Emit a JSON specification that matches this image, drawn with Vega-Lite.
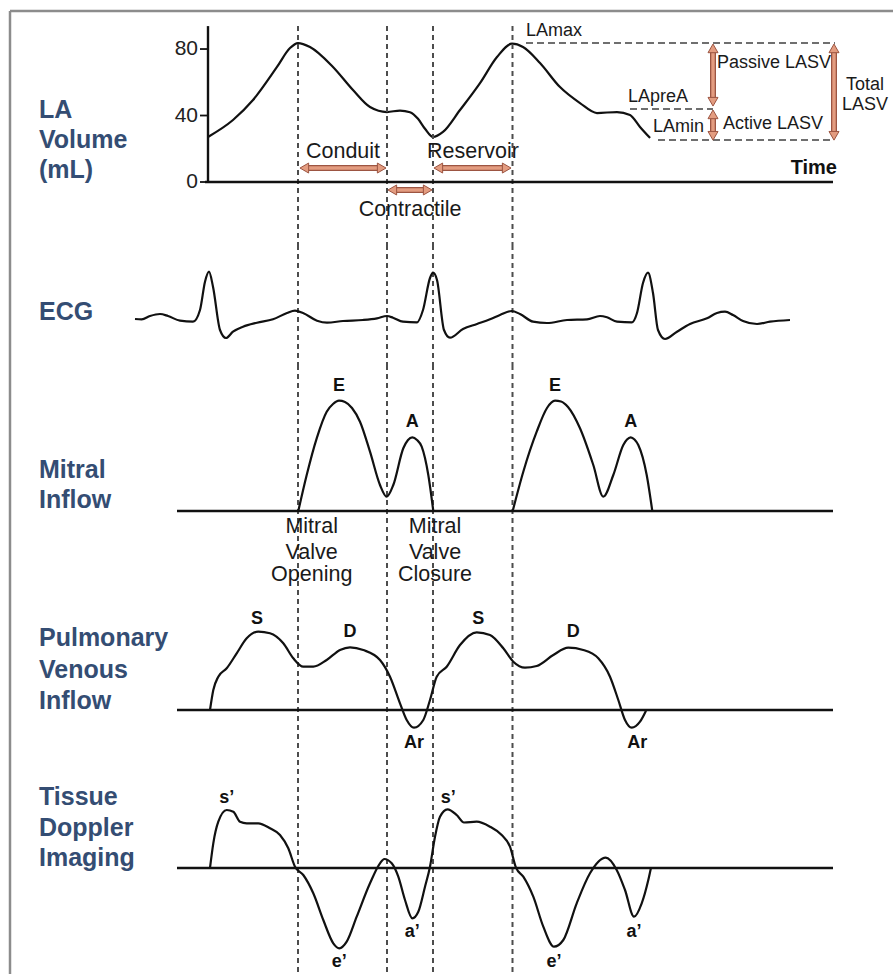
{
  "$schema": "https://vega.github.io/schema/vega-lite/v6.json",
  "background": "white",
  "padding": 0,
  "spacing": 0,
  "bounds": "flush",
  "config": {"view": {"stroke": null}, "font": "Liberation Sans", "text": {"font": "Liberation Sans"}},
  "datasets": {
    "events": [
      {"event": "Mitral valve opening", "t": 298},
      {"event": "Onset of atrial contraction", "t": 387},
      {"event": "Mitral valve closure", "t": 433},
      {"event": "Mitral valve opening", "t": 512.5}
    ],
    "laTicks": [{"v": 0}, {"v": 40}, {"v": 80}],
    "la": [
      {"t": 208, "v": 27.1}, {"t": 233, "v": 37.3}, {"t": 253, "v": 49.3}, {"t": 277, "v": 69.2},
      {"t": 290, "v": 80.6}, {"t": 298, "v": 83.6}, {"t": 310, "v": 81.2}, {"t": 333, "v": 69.2},
      {"t": 353, "v": 55.3}, {"t": 370, "v": 45.1}, {"t": 387, "v": 42.1}, {"t": 400, "v": 43.0},
      {"t": 410, "v": 42.0}, {"t": 418, "v": 38.0}, {"t": 425, "v": 32.0}, {"t": 433, "v": 27.1}, {"t": 443, "v": 30.1},
      {"t": 460, "v": 43.3}, {"t": 480, "v": 59.5}, {"t": 497, "v": 75.2}, {"t": 512, "v": 83.2},
      {"t": 523, "v": 81.2}, {"t": 540, "v": 71.6}, {"t": 560, "v": 57.1}, {"t": 580, "v": 47.5},
      {"t": 597, "v": 41.5}, {"t": 617, "v": 42.1}, {"t": 630, "v": 40.3}, {"t": 640, "v": 33.1},
      {"t": 650, "v": 26.5}
    ],
    "laRefs": [
      {"ref": "LAmax", "t": 526, "t2": 835, "v": 83.6},
      {"ref": "LApreA", "t": 630, "t2": 713, "v": 43.9},
      {"ref": "LAmin", "t": 658, "t2": 833, "v": 25.3}
    ],
    "arrows": [
      {"arrow": "Conduit", "orient": "h", "t": 304.3, "t2": 381.7, "v": 8.4, "v2": 8.4},
      {"arrow": "Reservoir", "orient": "h", "t": 438.3, "t2": 506.7, "v": 8.4, "v2": 8.4},
      {"arrow": "Contractile", "orient": "h", "t": 392.3, "t2": 427.7, "v": -4.8, "v2": -4.8},
      {"arrow": "Passive LASV", "orient": "v", "t": 713, "t2": 713, "v": 80.4, "v2": 48.3},
      {"arrow": "Active LASV", "orient": "v", "t": 713, "t2": 713, "v": 40.7, "v2": 27.8},
      {"arrow": "Total LASV", "orient": "v", "t": 834, "t2": 834, "v": 80.4, "v2": 27.8}
    ],
    "laText": [
      {"role": "phase", "t": 343, "v": 18.0, "text": "Conduit"},
      {"role": "phase", "t": 473, "v": 18.0, "text": "Reservoir"},
      {"role": "phase", "t": 410, "v": -16.8, "text": "Contractile"},
      {"role": "level", "t": 526, "v": 90.8, "text": "LAmax"},
      {"role": "level", "t": 628, "v": 51.1, "text": "LApreA"},
      {"role": "level", "t": 717, "v": 71.3, "text": "Passive LASV"},
      {"role": "level", "t": 723, "v": 34.9, "text": "Active LASV"},
      {"role": "levelR", "t": 704, "v": 33.1, "text": "LAmin"},
      {"role": "total", "t": 865, "v": 58.3, "text": "Total"},
      {"role": "total", "t": 865, "v": 46.3, "text": "LASV"},
      {"role": "time", "t": 837, "v": 8.4, "text": "Time"}
    ],
    "panelLabels": [
      {"panel": "la", "t": 39, "v": 43.3, "text": "LA"},
      {"panel": "la", "t": 39, "v": 25.3, "text": "Volume"},
      {"panel": "la", "t": 39, "v": 7.2, "text": "(mL)"},
      {"panel": "ecg", "t": 39, "v": 8, "text": "ECG"},
      {"panel": "mitral", "t": 39, "v": 41, "text": "Mitral"},
      {"panel": "mitral", "t": 39, "v": 11, "text": "Inflow"},
      {"panel": "pv", "t": 39, "v": 72, "text": "Pulmonary"},
      {"panel": "pv", "t": 39, "v": 40, "text": "Venous"},
      {"panel": "pv", "t": 39, "v": 9, "text": "Inflow"},
      {"panel": "tdi", "t": 39, "v": 71, "text": "Tissue"},
      {"panel": "tdi", "t": 39, "v": 40, "text": "Doppler"},
      {"panel": "tdi", "t": 39, "v": 10, "text": "Imaging"}
    ],
    "ecg": [
      {"t": 135, "v": 1}, {"t": 141.7, "v": 0.7}, {"t": 150, "v": 4}, {"t": 160, "v": 6}, {"t": 168, "v": 4},
      {"t": 180, "v": -0.7}, {"t": 193, "v": -1.7}, {"t": 200, "v": 10}, {"t": 205, "v": 38.3}, {"t": 209, "v": 48.3},
      {"t": 213, "v": 33.3}, {"t": 220, "v": -10}, {"t": 226, "v": -18}, {"t": 233, "v": -11.7}, {"t": 243, "v": -6.7},
      {"t": 257, "v": -2.7}, {"t": 273, "v": 0.7}, {"t": 287, "v": 7}, {"t": 295, "v": 9.3}, {"t": 303, "v": 7},
      {"t": 317, "v": -0.7}, {"t": 327, "v": -2.7}, {"t": 343, "v": -1}, {"t": 363, "v": 0}, {"t": 377, "v": 1.7},
      {"t": 387, "v": 4}, {"t": 393, "v": 2.3}, {"t": 403, "v": -1.7}, {"t": 417, "v": -2.3}, {"t": 423, "v": 10},
      {"t": 430, "v": 42}, {"t": 433, "v": 47.3}, {"t": 437, "v": 40}, {"t": 444, "v": -10}, {"t": 450, "v": -17.7},
      {"t": 463, "v": -9}, {"t": 477, "v": -4}, {"t": 490, "v": 0.7}, {"t": 500, "v": 5}, {"t": 511.7, "v": 9},
      {"t": 520, "v": 6}, {"t": 533, "v": -1.7}, {"t": 547, "v": -3}, {"t": 567, "v": 0}, {"t": 587, "v": 0.7},
      {"t": 600, "v": 4}, {"t": 607, "v": 2.7}, {"t": 617, "v": -1.7}, {"t": 632, "v": -2.3}, {"t": 637, "v": 7},
      {"t": 643, "v": 37}, {"t": 648, "v": 47.3}, {"t": 653, "v": 27}, {"t": 658, "v": -10}, {"t": 665, "v": -19},
      {"t": 677, "v": -11.7}, {"t": 690, "v": -4}, {"t": 707, "v": 1.7}, {"t": 717, "v": 7}, {"t": 725, "v": 8.3},
      {"t": 733, "v": 5}, {"t": 743, "v": -1}, {"t": 757, "v": -4}, {"t": 770, "v": -1.7}, {"t": 790, "v": 0}
    ],
    "mitral": [
      {"cycle": 1, "t": 298.3, "v": 0}, {"cycle": 1, "t": 306.7, "v": 36}, {"cycle": 1, "t": 316.7, "v": 72.7},
      {"cycle": 1, "t": 326.7, "v": 99.3}, {"cycle": 1, "t": 333, "v": 107}, {"cycle": 1, "t": 339, "v": 110.3}, {"cycle": 1, "t": 345, "v": 109},
      {"cycle": 1, "t": 352, "v": 103}, {"cycle": 1, "t": 360, "v": 89.3}, {"cycle": 1, "t": 370, "v": 59.3}, {"cycle": 1, "t": 380, "v": 26},
      {"cycle": 1, "t": 386.7, "v": 14.3}, {"cycle": 1, "t": 393.3, "v": 26}, {"cycle": 1, "t": 403.3, "v": 62.7},
      {"cycle": 1, "t": 408, "v": 71}, {"cycle": 1, "t": 412.3, "v": 73.7}, {"cycle": 1, "t": 417, "v": 71}, {"cycle": 1, "t": 421.7, "v": 64.3}, {"cycle": 1, "t": 428.3, "v": 36},
      {"cycle": 1, "t": 433.3, "v": 0},
      {"cycle": 2, "t": 512.7, "v": 0}, {"cycle": 2, "t": 523.3, "v": 39.3}, {"cycle": 2, "t": 536.7, "v": 79.3},
      {"cycle": 2, "t": 547, "v": 103}, {"cycle": 2, "t": 555, "v": 110.3}, {"cycle": 2, "t": 561, "v": 109.5}, {"cycle": 2, "t": 568, "v": 104},
      {"cycle": 2, "t": 580, "v": 82.7},
      {"cycle": 2, "t": 593.3, "v": 46}, {"cycle": 2, "t": 603.3, "v": 14.3}, {"cycle": 2, "t": 613.3, "v": 36},
      {"cycle": 2, "t": 623.3, "v": 66}, {"cycle": 2, "t": 627, "v": 71.5}, {"cycle": 2, "t": 630.7, "v": 73.7}, {"cycle": 2, "t": 634.5, "v": 71.5}, {"cycle": 2, "t": 638.3, "v": 66},
      {"cycle": 2, "t": 646.7, "v": 36}, {"cycle": 2, "t": 652.3, "v": 0}
    ],
    "valveText": [
      {"t": 311.7, "v": -15.5, "text": "Mitral"}, {"t": 311.7, "v": -41.5, "text": "Valve"}, {"t": 311.7, "v": -63.5, "text": "Opening"},
      {"t": 435, "v": -15.5, "text": "Mitral"}, {"t": 435, "v": -41.5, "text": "Valve"}, {"t": 435, "v": -63.5, "text": "Closure"}
    ],
    "pv": [
      {"t": 210, "v": 0}, {"t": 213.3, "v": 20}, {"t": 218.3, "v": 33.3}, {"t": 226.7, "v": 41.7}, {"t": 236.7, "v": 56.7},
      {"t": 246.7, "v": 71.7}, {"t": 258.3, "v": 78.3}, {"t": 270, "v": 76.7}, {"t": 283.3, "v": 66.7}, {"t": 293.3, "v": 51.7},
      {"t": 303.3, "v": 43.3}, {"t": 313.3, "v": 43.3}, {"t": 326.7, "v": 50}, {"t": 340, "v": 60}, {"t": 350, "v": 62.7},
      {"t": 363.3, "v": 60}, {"t": 380, "v": 50}, {"t": 390, "v": 33.3}, {"t": 400, "v": 6.7}, {"t": 406.7, "v": -10},
      {"t": 414, "v": -17.7}, {"t": 423.3, "v": -10}, {"t": 430, "v": 10}, {"t": 436.7, "v": 33.3}, {"t": 446.7, "v": 43.3},
      {"t": 460, "v": 65}, {"t": 476.7, "v": 77.7}, {"t": 490, "v": 75}, {"t": 503.3, "v": 61.7}, {"t": 513.3, "v": 48.3},
      {"t": 525, "v": 42.3}, {"t": 536.7, "v": 44}, {"t": 553.3, "v": 55}, {"t": 568.3, "v": 62.3}, {"t": 583.3, "v": 60},
      {"t": 598.3, "v": 51.7}, {"t": 610, "v": 33.3}, {"t": 618.3, "v": 10}, {"t": 625, "v": -10}, {"t": 631.7, "v": -17.7},
      {"t": 640, "v": -11.7}, {"t": 646, "v": -0.7}
    ],
    "tdi": [
      {"t": 210, "v": 0}, {"t": 213.3, "v": 24.7}, {"t": 218.3, "v": 46.3}, {"t": 226.7, "v": 58}, {"t": 233.3, "v": 56.3},
      {"t": 240, "v": 46.3}, {"t": 246.7, "v": 44.7}, {"t": 258.3, "v": 44.7}, {"t": 270, "v": 39.7}, {"t": 280, "v": 33},
      {"t": 288.3, "v": 19.7}, {"t": 295, "v": 1.3}, {"t": 303.3, "v": -7}, {"t": 313.3, "v": -25.3}, {"t": 323.3, "v": -52},
      {"t": 333.3, "v": -75.3}, {"t": 339.3, "v": -80.3}, {"t": 346.7, "v": -73.7}, {"t": 356.7, "v": -48.7}, {"t": 370, "v": -15.3},
      {"t": 380, "v": 4.7}, {"t": 384.3, "v": 9}, {"t": 391.7, "v": 4.7}, {"t": 398.3, "v": -8.7}, {"t": 405, "v": -32},
      {"t": 412.3, "v": -50.3}, {"t": 418.3, "v": -43.7}, {"t": 425, "v": -18.7}, {"t": 430, "v": 1.3}, {"t": 435, "v": 31.3},
      {"t": 440, "v": 51.3}, {"t": 447.5, "v": 58.7}, {"t": 456.7, "v": 53}, {"t": 464, "v": 45.5}, {"t": 476.7, "v": 46.3},
      {"t": 490, "v": 41.3}, {"t": 501.7, "v": 33}, {"t": 510, "v": 21.3}, {"t": 516, "v": 0.3}, {"t": 523.3, "v": -8.7},
      {"t": 533.3, "v": -28.7}, {"t": 543.3, "v": -58.7}, {"t": 554, "v": -78.7}, {"t": 563.3, "v": -72}, {"t": 576.7, "v": -35.3},
      {"t": 590, "v": -5.3}, {"t": 605.7, "v": 10.3}, {"t": 616.7, "v": -2}, {"t": 625, "v": -22}, {"t": 634, "v": -48.7},
      {"t": 641.7, "v": -35.3}, {"t": 648.3, "v": -12}, {"t": 651, "v": 0.3}
    ],
    "peaks": [
      {"panel": "mitral", "wave": "E", "t": 339, "v": 125.3},
      {"panel": "mitral", "wave": "A", "t": 412.3, "v": 88.7},
      {"panel": "mitral", "wave": "E", "t": 555, "v": 125.3},
      {"panel": "mitral", "wave": "A", "t": 630.7, "v": 88.7},
      {"panel": "pv", "wave": "S", "t": 257, "v": 90.7},
      {"panel": "pv", "wave": "D", "t": 350, "v": 78.3},
      {"panel": "pv", "wave": "Ar", "t": 414, "v": -33.3},
      {"panel": "pv", "wave": "S", "t": 478.3, "v": 90.7},
      {"panel": "pv", "wave": "D", "t": 573.3, "v": 78.3},
      {"panel": "pv", "wave": "Ar", "t": 637.3, "v": -33.3},
      {"panel": "tdi", "wave": "s’", "t": 226.7, "v": 69.7},
      {"panel": "tdi", "wave": "e’", "t": 339.3, "v": -93.7},
      {"panel": "tdi", "wave": "a’", "t": 412.3, "v": -63.7},
      {"panel": "tdi", "wave": "s’", "t": 448.3, "v": 69.7},
      {"panel": "tdi", "wave": "e’", "t": 554, "v": -93.7},
      {"panel": "tdi", "wave": "a’", "t": 634, "v": -63.7}
    ]
  },
  "vconcat": [
    {
      "width": 893,
      "height": 245,
      "layer": [
        {
          "data": {"name": "la"},
          "mark": {"type": "line", "color": "#111111", "strokeWidth": 2.2, "interpolate": "monotone"},
          "encoding": {
            "x": {"field": "t", "type": "quantitative", "scale": {"domain": [0, 893], "nice": false, "zero": false}, "axis": null},
            "y": {"field": "v", "type": "quantitative", "scale": {"domain": [-37.9, 109.5], "nice": false, "zero": false}, "axis": null}
          }
        },
        {
          "data": {"values": [{}]},
          "mark": {"type": "rule", "color": "#8c8c8c", "strokeWidth": 2.5},
          "encoding": {
            "x": {"datum": 10, "type": "quantitative", "axis": null},
            "x2": {"datum": 893},
            "y": {"datum": 102.9, "type": "quantitative", "axis": null}
          }
        },
        {
          "data": {"values": [{}]},
          "mark": {"type": "rule", "color": "#8c8c8c", "strokeWidth": 2.5},
          "encoding": {
            "x": {"datum": 10, "type": "quantitative", "axis": null},
            "y": {"datum": 102.9, "type": "quantitative", "axis": null},
            "y2": {"datum": -37.9}
          }
        },
        {
          "data": {"name": "events"},
          "mark": {"type": "rule", "color": "#4d4d4d", "strokeWidth": 2, "strokeDash": [5, 4]},
          "encoding": {
            "x": {"field": "t", "type": "quantitative", "axis": null},
            "y": {"datum": 93.8, "type": "quantitative", "axis": null},
            "y2": {"datum": -37.9}
          }
        },
        {
          "data": {"name": "laRefs"},
          "mark": {"type": "rule", "color": "#6f6f6f", "strokeWidth": 1.9, "strokeDash": [7, 4]},
          "encoding": {
            "x": {"field": "t", "type": "quantitative", "axis": null},
            "x2": {"field": "t2"},
            "y": {"field": "v", "type": "quantitative", "axis": null}
          }
        },
        {
          "data": {"values": [{}]},
          "mark": {"type": "rule", "color": "#111111", "strokeWidth": 2.4},
          "encoding": {
            "x": {"datum": 208, "type": "quantitative", "axis": null},
            "y": {"datum": 93.8, "type": "quantitative", "axis": null},
            "y2": {"datum": 0}
          }
        },
        {
          "data": {"values": [{}]},
          "mark": {"type": "rule", "color": "#111111", "strokeWidth": 2.4},
          "encoding": {
            "x": {"datum": 205, "type": "quantitative", "axis": null},
            "x2": {"datum": 833},
            "y": {"datum": 0, "type": "quantitative", "axis": null}
          }
        },
        {
          "data": {"name": "laTicks"},
          "mark": {"type": "rule", "color": "#111111", "strokeWidth": 1.8},
          "encoding": {
            "x": {"datum": 200, "type": "quantitative", "axis": null},
            "x2": {"datum": 208},
            "y": {"field": "v", "type": "quantitative", "axis": null}
          }
        },
        {
          "data": {"name": "laTicks"},
          "mark": {"type": "text", "align": "right", "baseline": "middle", "fontSize": 21, "color": "#222222"},
          "encoding": {
            "x": {"datum": 198, "type": "quantitative", "axis": null},
            "y": {"field": "v", "type": "quantitative", "axis": null},
            "text": {"field": "v", "type": "quantitative"}
          }
        },
        {
          "data": {"name": "arrows"},
          "mark": {"type": "rule", "color": "#9c5542", "strokeWidth": 6},
          "encoding": {
            "x": {"field": "t", "type": "quantitative", "axis": null},
            "x2": {"field": "t2"},
            "y": {"field": "v", "type": "quantitative", "axis": null},
            "y2": {"field": "v2"}
          }
        },
        {
          "data": {"name": "arrows"},
          "mark": {"type": "rule", "color": "#e39c80", "strokeWidth": 3.4},
          "encoding": {
            "x": {"field": "t", "type": "quantitative", "axis": null},
            "x2": {"field": "t2"},
            "y": {"field": "v", "type": "quantitative", "axis": null},
            "y2": {"field": "v2"}
          }
        },
        {
          "data": {"name": "arrows"},
          "transform": [{"filter": "datum.orient === 'h'"}],
          "mark": {"type": "point", "shape": "triangle-left", "filled": true, "size": 100, "fill": "#e39c80", "stroke": "#9c5542", "strokeWidth": 1, "opacity": 1},
          "encoding": {
            "x": {"field": "t", "type": "quantitative", "axis": null},
            "y": {"field": "v", "type": "quantitative", "axis": null}
          }
        },
        {
          "data": {"name": "arrows"},
          "transform": [{"filter": "datum.orient === 'h'"}],
          "mark": {"type": "point", "shape": "triangle-right", "filled": true, "size": 100, "fill": "#e39c80", "stroke": "#9c5542", "strokeWidth": 1, "opacity": 1},
          "encoding": {
            "x": {"field": "t2", "type": "quantitative", "axis": null},
            "y": {"field": "v2", "type": "quantitative", "axis": null}
          }
        },
        {
          "data": {"name": "arrows"},
          "transform": [{"filter": "datum.orient === 'v'"}],
          "mark": {"type": "point", "shape": "triangle-up", "filled": true, "size": 100, "fill": "#e39c80", "stroke": "#9c5542", "strokeWidth": 1, "opacity": 1},
          "encoding": {
            "x": {"field": "t", "type": "quantitative", "axis": null},
            "y": {"field": "v", "type": "quantitative", "axis": null}
          }
        },
        {
          "data": {"name": "arrows"},
          "transform": [{"filter": "datum.orient === 'v'"}],
          "mark": {"type": "point", "shape": "triangle-down", "filled": true, "size": 100, "fill": "#e39c80", "stroke": "#9c5542", "strokeWidth": 1, "opacity": 1},
          "encoding": {
            "x": {"field": "t2", "type": "quantitative", "axis": null},
            "y": {"field": "v2", "type": "quantitative", "axis": null}
          }
        },
        {
          "data": {"name": "laText"},
          "transform": [{"filter": "datum.role === 'phase'"}],
          "mark": {"type": "text", "align": "center", "baseline": "middle", "fontSize": 21.5, "color": "#1a1a1a"},
          "encoding": {
            "x": {"field": "t", "type": "quantitative", "axis": null},
            "y": {"field": "v", "type": "quantitative", "axis": null},
            "text": {"field": "text"}
          }
        },
        {
          "data": {"name": "laText"},
          "transform": [{"filter": "datum.role === 'level'"}],
          "mark": {"type": "text", "align": "left", "baseline": "middle", "fontSize": 18, "color": "#1a1a1a"},
          "encoding": {
            "x": {"field": "t", "type": "quantitative", "axis": null},
            "y": {"field": "v", "type": "quantitative", "axis": null},
            "text": {"field": "text"}
          }
        },
        {
          "data": {"name": "laText"},
          "transform": [{"filter": "datum.role === 'levelR'"}],
          "mark": {"type": "text", "align": "right", "baseline": "middle", "fontSize": 18, "color": "#1a1a1a"},
          "encoding": {
            "x": {"field": "t", "type": "quantitative", "axis": null},
            "y": {"field": "v", "type": "quantitative", "axis": null},
            "text": {"field": "text"}
          }
        },
        {
          "data": {"name": "laText"},
          "transform": [{"filter": "datum.role === 'total'"}],
          "mark": {"type": "text", "align": "center", "baseline": "middle", "fontSize": 18, "color": "#1a1a1a"},
          "encoding": {
            "x": {"field": "t", "type": "quantitative", "axis": null},
            "y": {"field": "v", "type": "quantitative", "axis": null},
            "text": {"field": "text"}
          }
        },
        {
          "data": {"name": "laText"},
          "transform": [{"filter": "datum.role === 'time'"}],
          "mark": {"type": "text", "align": "right", "baseline": "middle", "fontSize": 20, "fontWeight": "bold", "color": "#111111"},
          "encoding": {
            "x": {"field": "t", "type": "quantitative", "axis": null},
            "y": {"field": "v", "type": "quantitative", "axis": null},
            "text": {"field": "text"}
          }
        },
        {
          "data": {"name": "panelLabels"},
          "transform": [{"filter": "datum.panel === 'la'"}],
          "mark": {"type": "text", "align": "left", "baseline": "middle", "fontSize": 25, "fontWeight": "bold", "color": "#344d73"},
          "encoding": {
            "x": {"field": "t", "type": "quantitative", "axis": null},
            "y": {"field": "v", "type": "quantitative", "axis": null},
            "text": {"field": "text"}
          }
        }
      ]
    },
    {
      "width": 893,
      "height": 120,
      "layer": [
        {
          "data": {"values": [{}]},
          "mark": {"type": "rule", "color": "#8c8c8c", "strokeWidth": 2.5},
          "encoding": {
            "x": {"datum": 10, "type": "quantitative", "scale": {"domain": [0, 893], "nice": false, "zero": false}, "axis": null}
          }
        },
        {
          "data": {"name": "events"},
          "mark": {"type": "rule", "color": "#4d4d4d", "strokeWidth": 2, "strokeDash": [5, 4]},
          "encoding": {"x": {"field": "t", "type": "quantitative", "axis": null}}
        },
        {
          "data": {"name": "ecg"},
          "mark": {"type": "line", "color": "#111111", "strokeWidth": 2.2, "interpolate": "monotone", "strokeJoin": "round"},
          "encoding": {
            "x": {"field": "t", "type": "quantitative", "axis": null},
            "y": {"field": "v", "type": "quantitative", "scale": {"domain": [-45, 75], "nice": false, "zero": false}, "axis": null}
          }
        },
        {
          "data": {"name": "panelLabels"},
          "transform": [{"filter": "datum.panel === 'ecg'"}],
          "mark": {"type": "text", "align": "left", "baseline": "middle", "fontSize": 25, "fontWeight": "bold", "color": "#344d73"},
          "encoding": {
            "x": {"field": "t", "type": "quantitative", "axis": null},
            "y": {"field": "v", "type": "quantitative", "axis": null},
            "text": {"field": "text"}
          }
        }
      ]
    },
    {
      "width": 893,
      "height": 225,
      "layer": [
        {
          "data": {"values": [{}]},
          "mark": {"type": "rule", "color": "#8c8c8c", "strokeWidth": 2.5},
          "encoding": {
            "x": {"datum": 10, "type": "quantitative", "scale": {"domain": [0, 893], "nice": false, "zero": false}, "axis": null}
          }
        },
        {
          "data": {"name": "events"},
          "mark": {"type": "rule", "color": "#4d4d4d", "strokeWidth": 2, "strokeDash": [5, 4]},
          "encoding": {"x": {"field": "t", "type": "quantitative", "axis": null}}
        },
        {
          "data": {"values": [{}]},
          "mark": {"type": "rule", "color": "#111111", "strokeWidth": 2.4},
          "encoding": {
            "x": {"datum": 177, "type": "quantitative", "axis": null},
            "x2": {"datum": 833},
            "y": {"datum": 0, "type": "quantitative", "scale": {"domain": [-79, 146], "nice": false, "zero": false}, "axis": null}
          }
        },
        {
          "data": {"name": "mitral"},
          "mark": {"type": "line", "color": "#111111", "strokeWidth": 2.2, "interpolate": "monotone"},
          "encoding": {
            "x": {"field": "t", "type": "quantitative", "axis": null},
            "y": {"field": "v", "type": "quantitative", "axis": null},
            "detail": {"field": "cycle", "type": "nominal"}
          }
        },
        {
          "data": {"name": "peaks"},
          "transform": [{"filter": "datum.panel === 'mitral'"}],
          "mark": {"type": "text", "align": "center", "baseline": "middle", "fontSize": 18, "fontWeight": "bold", "color": "#111111"},
          "encoding": {
            "x": {"field": "t", "type": "quantitative", "axis": null},
            "y": {"field": "v", "type": "quantitative", "axis": null},
            "text": {"field": "wave"}
          }
        },
        {
          "data": {"name": "valveText"},
          "mark": {"type": "text", "align": "center", "baseline": "middle", "fontSize": 21.5, "color": "#1a1a1a"},
          "encoding": {
            "x": {"field": "t", "type": "quantitative", "axis": null},
            "y": {"field": "v", "type": "quantitative", "axis": null},
            "text": {"field": "text"}
          }
        },
        {
          "data": {"name": "panelLabels"},
          "transform": [{"filter": "datum.panel === 'mitral'"}],
          "mark": {"type": "text", "align": "left", "baseline": "middle", "fontSize": 25, "fontWeight": "bold", "color": "#344d73"},
          "encoding": {
            "x": {"field": "t", "type": "quantitative", "axis": null},
            "y": {"field": "v", "type": "quantitative", "axis": null},
            "text": {"field": "text"}
          }
        }
      ]
    },
    {
      "width": 893,
      "height": 170,
      "layer": [
        {
          "data": {"values": [{}]},
          "mark": {"type": "rule", "color": "#8c8c8c", "strokeWidth": 2.5},
          "encoding": {
            "x": {"datum": 10, "type": "quantitative", "scale": {"domain": [0, 893], "nice": false, "zero": false}, "axis": null}
          }
        },
        {
          "data": {"name": "events"},
          "mark": {"type": "rule", "color": "#4d4d4d", "strokeWidth": 2, "strokeDash": [5, 4]},
          "encoding": {"x": {"field": "t", "type": "quantitative", "axis": null}}
        },
        {
          "data": {"values": [{}]},
          "mark": {"type": "rule", "color": "#111111", "strokeWidth": 2.4},
          "encoding": {
            "x": {"datum": 177, "type": "quantitative", "axis": null},
            "x2": {"datum": 833},
            "y": {"datum": 0, "type": "quantitative", "scale": {"domain": [-50, 120], "nice": false, "zero": false}, "axis": null}
          }
        },
        {
          "data": {"name": "pv"},
          "mark": {"type": "line", "color": "#111111", "strokeWidth": 2.2, "interpolate": "monotone"},
          "encoding": {
            "x": {"field": "t", "type": "quantitative", "axis": null},
            "y": {"field": "v", "type": "quantitative", "axis": null}
          }
        },
        {
          "data": {"name": "peaks"},
          "transform": [{"filter": "datum.panel === 'pv'"}],
          "mark": {"type": "text", "align": "center", "baseline": "middle", "fontSize": 18, "fontWeight": "bold", "color": "#111111"},
          "encoding": {
            "x": {"field": "t", "type": "quantitative", "axis": null},
            "y": {"field": "v", "type": "quantitative", "axis": null},
            "text": {"field": "wave"}
          }
        },
        {
          "data": {"name": "panelLabels"},
          "transform": [{"filter": "datum.panel === 'pv'"}],
          "mark": {"type": "text", "align": "left", "baseline": "middle", "fontSize": 25, "fontWeight": "bold", "color": "#344d73"},
          "encoding": {
            "x": {"field": "t", "type": "quantitative", "axis": null},
            "y": {"field": "v", "type": "quantitative", "axis": null},
            "text": {"field": "text"}
          }
        }
      ]
    },
    {
      "width": 893,
      "height": 214,
      "layer": [
        {
          "data": {"values": [{}]},
          "mark": {"type": "rule", "color": "#8c8c8c", "strokeWidth": 2.5},
          "encoding": {
            "x": {"datum": 10, "type": "quantitative", "scale": {"domain": [0, 893], "nice": false, "zero": false}, "axis": null}
          }
        },
        {
          "data": {"name": "events"},
          "mark": {"type": "rule", "color": "#4d4d4d", "strokeWidth": 2, "strokeDash": [5, 4]},
          "encoding": {"x": {"field": "t", "type": "quantitative", "axis": null}}
        },
        {
          "data": {"values": [{}]},
          "mark": {"type": "rule", "color": "#111111", "strokeWidth": 2.4},
          "encoding": {
            "x": {"datum": 177, "type": "quantitative", "axis": null},
            "x2": {"datum": 833},
            "y": {"datum": 0, "type": "quantitative", "scale": {"domain": [-106, 108], "nice": false, "zero": false}, "axis": null}
          }
        },
        {
          "data": {"name": "tdi"},
          "mark": {"type": "line", "color": "#111111", "strokeWidth": 2.2, "interpolate": "monotone"},
          "encoding": {
            "x": {"field": "t", "type": "quantitative", "axis": null},
            "y": {"field": "v", "type": "quantitative", "axis": null}
          }
        },
        {
          "data": {"name": "peaks"},
          "transform": [{"filter": "datum.panel === 'tdi'"}],
          "mark": {"type": "text", "align": "center", "baseline": "middle", "fontSize": 18, "fontWeight": "bold", "color": "#111111"},
          "encoding": {
            "x": {"field": "t", "type": "quantitative", "axis": null},
            "y": {"field": "v", "type": "quantitative", "axis": null},
            "text": {"field": "wave"}
          }
        },
        {
          "data": {"name": "panelLabels"},
          "transform": [{"filter": "datum.panel === 'tdi'"}],
          "mark": {"type": "text", "align": "left", "baseline": "middle", "fontSize": 25, "fontWeight": "bold", "color": "#344d73"},
          "encoding": {
            "x": {"field": "t", "type": "quantitative", "axis": null},
            "y": {"field": "v", "type": "quantitative", "axis": null},
            "text": {"field": "text"}
          }
        }
      ]
    }
  ]
}
